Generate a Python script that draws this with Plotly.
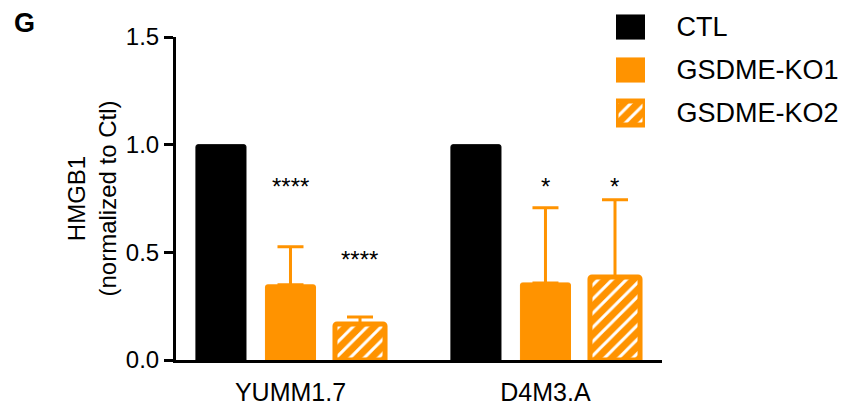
import plotly.graph_objects as go

cell_lines = ["YUMM1.7", "D4M3.A"]
groups = ["CTL", "GSDME-KO1", "GSDME-KO2"]
ctl = [1.0, 1.0]
ko1 = [0.349, 0.358]
ko1_sd = [0.177, 0.349]
ko2 = [0.167, 0.386]
ko2_sd = [0.033, 0.358]
ko1_sig = ["****", "*"]
ko2_sig = ["****", "*"]
ko1_sig_y = [0.806, 0.806]
ko2_sig_y = [0.467, 0.806]

ORANGE = "#FF9300"
FONT = "Liberation Sans, Arial, sans-serif"
W, H = 850, 408
PLOT_H = 360  # paper height in pixels (bottom margin 48)

hatch = dict(shape="/", fgcolor="white", fgopacity=1, bgcolor=ORANGE,
             size=10, solidity=0.3)
fills = {"CTL": dict(color="black", line=dict(color="black", width=1)),
         "GSDME-KO1": dict(color=ORANGE, line=dict(color=ORANGE, width=1)),
         "GSDME-KO2": dict(color=ORANGE, line=dict(color=ORANGE, width=5),
                           pattern=hatch)}

fig = go.Figure()
fig.add_trace(go.Bar(
    name="CTL", x=cell_lines, y=ctl, showlegend=False,
    marker=dict(**fills["CTL"], cornerradius=2),
))
fig.add_trace(go.Bar(
    name="GSDME-KO1", x=cell_lines, y=ko1, showlegend=False,
    marker=dict(**fills["GSDME-KO1"], cornerradius=2),
    error_y=dict(type="data", array=ko1_sd, arrayminus=[0, 0], symmetric=False,
                 color=ORANGE, thickness=3, width=13),
))
fig.add_trace(go.Bar(
    name="GSDME-KO2", x=cell_lines, y=ko2, showlegend=False,
    marker=dict(**fills["GSDME-KO2"], cornerradius=2),
    error_y=dict(type="data", array=ko2_sd, arrayminus=[0, 0], symmetric=False,
                 color=ORANGE, thickness=3, width=13),
))

# legend drawn as a small bar chart on its own axes, labels as tick text
for g in groups:
    fig.add_trace(go.Bar(
        x=[1], y=[g], orientation="h", base=0, width=0.56, offset=-0.28,
        xaxis="x2", yaxis="y2", showlegend=False, hoverinfo="skip",
        marker=fills[g],
    ))

# significance marks above the knockout bars
for i, cl in enumerate(cell_lines):
    fig.add_annotation(x=cl, y=ko1_sig_y[i], text=ko1_sig[i], showarrow=False,
                       yanchor="middle",
                       font=dict(size=24, color="black", family=FONT))
    fig.add_annotation(x=cl, y=ko2_sig_y[i], text=ko2_sig[i], showarrow=False,
                       xshift=69.5, yanchor="middle",
                       font=dict(size=24, color="black", family=FONT))

fig.add_annotation(x=12 / W, y=(PLOT_H - 23) / PLOT_H, xref="paper", yref="paper",
                   text="<b>G</b>", showarrow=False, xanchor="left", yanchor="middle",
                   font=dict(size=27, color="black", family=FONT))

fig.update_layout(
    width=W, height=H,
    margin=dict(l=0, r=0, t=0, b=48, autoexpand=False),
    paper_bgcolor="white", plot_bgcolor="rgba(0,0,0,0)",
    barmode="group", bargap=0.182, bargroupgap=0.28,
    font=dict(family=FONT, color="black", size=20),
    showlegend=False,
    xaxis=dict(domain=[176 / W, 662 / W], range=[-0.449, 1.457],
               showline=True, linecolor="black", linewidth=3,
               ticks="", tickfont=dict(size=25), ticklabelstandoff=8,
               showgrid=False, automargin=False),
    yaxis=dict(domain=[0, (PLOT_H - 37) / PLOT_H], range=[0, 1.5],
               tickvals=[0, 0.5, 1.0, 1.5], ticktext=["0.0", "0.5", "1.0", "1.5"],
               showline=True, linecolor="black", linewidth=3,
               ticks="outside", ticklen=9, tickwidth=3, tickcolor="black",
               tickfont=dict(size=24), showgrid=False, zeroline=False, automargin=False,
               title=dict(text="HMGB1<br>(normalized to Ctl)", font=dict(size=24),
                          standoff=3)),
    xaxis2=dict(domain=[616 / W, 645 / W], range=[0, 1], anchor="y2",
                visible=False, fixedrange=True),
    yaxis2=dict(domain=[(PLOT_H - 135) / PLOT_H, (PLOT_H - 5) / PLOT_H],
                range=[2.512, -0.512], anchor="x2", side="right",
                type="category", categoryorder="array", categoryarray=groups,
                showline=False, showgrid=False, zeroline=False,
                ticks="outside", ticklen=25, tickcolor="rgba(0,0,0,0)",
                tickfont=dict(size=27), automargin=False, fixedrange=True),
)

fig.write_html("out.html")
